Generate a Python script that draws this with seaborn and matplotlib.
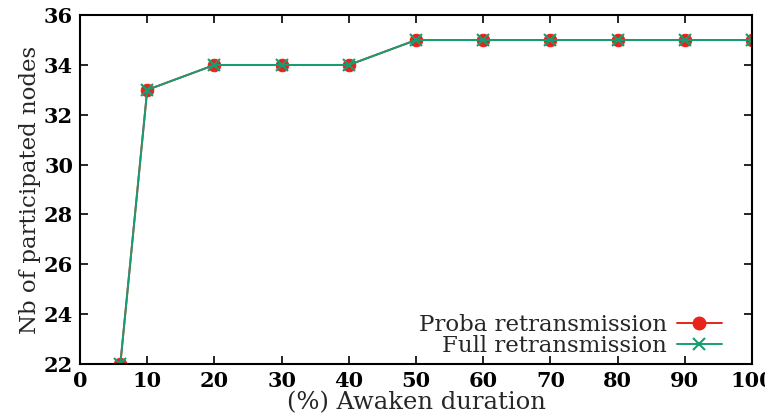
import matplotlib
matplotlib.use("Agg")
import matplotlib.pyplot as plt
import seaborn as sns
import pandas as pd
from matplotlib.lines import Line2D

x_vals = [6, 10, 20, 30, 40, 50, 60, 70, 80, 90, 100]
proba = [22, 33, 34, 34, 34, 35, 35, 35, 35, 35, 35]
full = [22, 33, 34, 34, 34, 35, 35, 35, 35, 35, 35]
series_names = ["Proba retransmission", "Full retransmission"]
x_ticks = [0, 10, 20, 30, 40, 50, 60, 70, 80, 90, 100]
y_ticks = [22, 24, 26, 28, 30, 32, 34, 36]

df_p = pd.DataFrame({"x": x_vals, "y": proba})
df_f = pd.DataFrame({"x": x_vals, "y": full})

RED = "#e8231c"
GREEN = "#169e72"

sns.set_style("ticks")
plt.rcParams['font.family'] = ['DejaVu Serif']

fig = plt.figure(figsize=(7.65, 4.2), dpi=100)
ax = fig.add_axes([0.1046, 0.1333, 0.8784, 0.8307])

sns.lineplot(data=df_p, x="x", y="y", color=RED, marker="o", markersize=9,
             markeredgecolor=RED, linewidth=1.4, ax=ax)
sns.lineplot(data=df_f, x="x", y="y", color=GREEN, marker="x", markersize=8,
             markeredgecolor=GREEN, markeredgewidth=1.5, linewidth=1.4, ax=ax)

handles = [
    Line2D([], [], color=RED, marker="o", markersize=9, markeredgecolor=RED, linewidth=1.4),
    Line2D([], [], color=GREEN, marker="x", markersize=8, markeredgecolor=GREEN,
           markeredgewidth=1.5, linewidth=1.4),
]
leg = ax.legend(handles, series_names, loc="lower right", markerfirst=False,
                frameon=False, fontsize=16.5, handlelength=1.95, labelspacing=-0.05,
                borderaxespad=0.0, handletextpad=0.45, borderpad=0.3,
                bbox_to_anchor=(0.965, 0.0))
for t in leg.get_texts():
    t.set_ha("right")
leg._legend_box.align = "right"

ax.set_xlim(0, 100)
ax.set_ylim(22, 36)
ax.set_xticks(x_ticks)
ax.set_yticks(y_ticks)
ax.tick_params(direction="in", top=True, right=True, length=6, width=1.2,
               labelsize=15, colors="black", pad=5)
for lab in ax.get_xticklabels() + ax.get_yticklabels():
    lab.set_fontweight("bold")
for s in ax.spines.values():
    s.set_visible(True)
    s.set_linewidth(1.5)
    s.set_color("black")
ax.set_xlabel("(%) Awaken duration", fontsize=17.5, labelpad=0)
ax.set_ylabel("Nb of participated nodes", fontsize=16.5, labelpad=2)

fig.savefig("out.png", dpi=100)
